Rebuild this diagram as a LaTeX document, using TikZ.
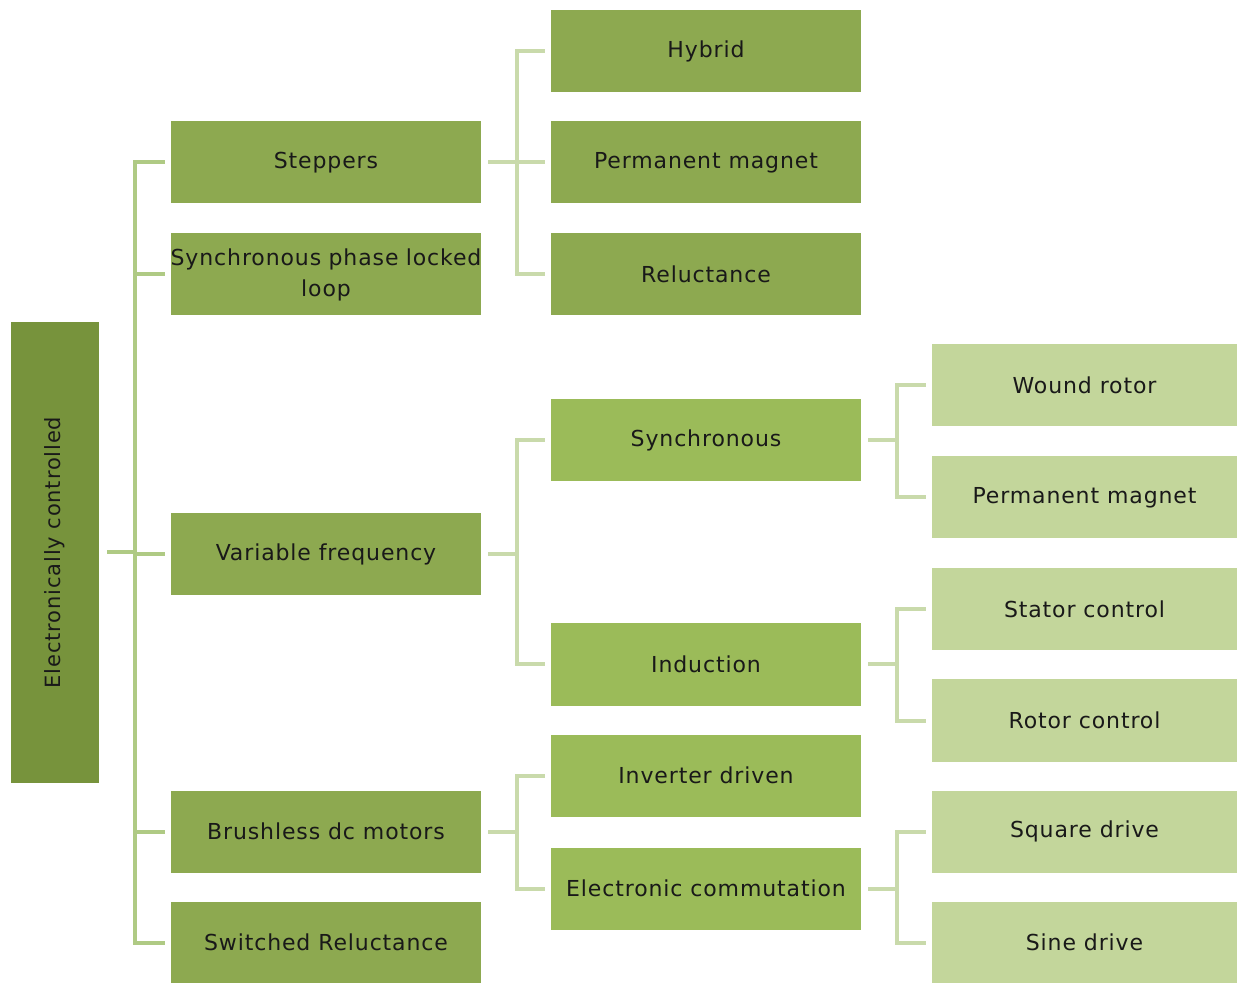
\documentclass[tikz,border=0pt]{standalone}
\usepackage{fontspec}
\setmainfont[LetterSpace=4]{DejaVu Sans}
\usetikzlibrary{positioning}

\definecolor{rootgreen}{HTML}{77933C}
\definecolor{midgreen}{HTML}{8DA950}
\definecolor{leafgreen}{HTML}{9BBB59}
\definecolor{palegreen}{HTML}{C3D69B}
\definecolor{linkgreen}{HTML}{AFCA84}
\definecolor{linkpale}{HTML}{C9DAAB}

\begin{document}
\begin{tikzpicture}[x=0.5pt, y=-0.5pt,
        box/.style={rectangle, minimum width=155pt, minimum height=41pt,
        inner sep=1pt, text=black!90, align=center, font=\fontsize{11}{15.5}\selectfont},
        darkbox/.style={box, fill=midgreen},
        lightbox/.style={box, fill=leafgreen},
        palebox/.style={box, fill=palegreen, minimum width=152.5pt},
        link/.style={draw=linkgreen, line width=2pt},
        sublink/.style={draw=linkpale, line width=2pt}]
        \useasboundingbox (0,0) rectangle (1237,983);

        % root
        \node (root) [rectangle, fill=rootgreen, minimum width=44pt, minimum height=230.5pt,
            text=black!90, font=\fontsize{10.5}{14}\selectfont] at (55,552.5)
            {\rotatebox{90}{Electronically controlled}};

        % second column
        \node (steppers) [darkbox] at (326,162.5) {Steppers};
        \node (spll) [darkbox, text width=150pt] at (326,274.5)
            {\makebox[150pt]{Synchronous phase locked}\\loop};
        \node (varfreq) [darkbox] at (326,554.5) {Variable frequency};
        \node (brushless) [darkbox] at (326,831.5) {Brushless dc motors};
        \node (switched) [darkbox] at (326,942.5) {Switched Reluctance};

        % third column
        \node (hybrid) [darkbox] at (706,51.5) {Hybrid};
        \node (pmstep) [darkbox] at (706,162.5) {Permanent magnet};
        \node (relstep) [darkbox] at (706,274.5) {Reluctance};
        \node (sync) [lightbox] at (706,440.5) {Synchronous};
        \node (induction) [lightbox] at (706,664.5) {Induction};
        \node (inverter) [lightbox] at (706,775.5) {Inverter driven};
        \node (ecomm) [lightbox] at (706,888.5) {Electronic commutation};

        % fourth column
        \node (wound) [palebox] at (1084.5,385.5) {Wound rotor};
        \node (pmsync) [palebox] at (1084.5,497.5) {Permanent magnet};
        \node (stator) [palebox] at (1084.5,609.5) {Stator control};
        \node (rotor) [palebox] at (1084.5,720.5) {Rotor control};
        \node (square) [palebox] at (1084.5,831.5) {Square drive};
        \node (sine) [palebox] at (1084.5,942.5) {Sine drive};

        % brackets
        \foreach \c in {steppers,spll,varfreq,brushless,switched}
            \draw[link] ([xshift=4pt]root.east) -- ++(14pt,0) |- ([xshift=-3pt]\c.west);
        \foreach \p/\c in {steppers/hybrid,steppers/pmstep,steppers/relstep,
                varfreq/sync,varfreq/induction,brushless/inverter,brushless/ecomm,
                sync/wound,sync/pmsync,induction/stator,induction/rotor,
                ecomm/square,ecomm/sine}
            \draw[sublink] ([xshift=3.5pt]\p.east) -- ++(14.5pt,0) |- ([xshift=-3pt]\c.west);
\end{tikzpicture}
\end{document}
